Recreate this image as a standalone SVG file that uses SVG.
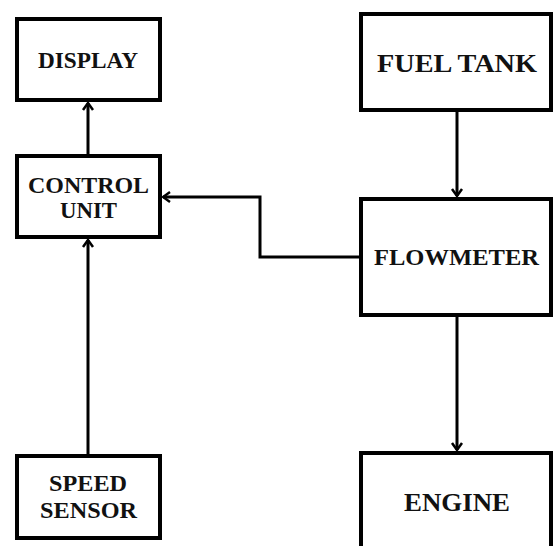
<svg xmlns="http://www.w3.org/2000/svg" width="554" height="546" viewBox="0 0 554 546">
<style>
.box{fill:#fff;stroke:#000;stroke-width:4}
.lbl{font-family:"Liberation Serif","Times New Roman",serif;font-weight:bold;fill:#111;text-anchor:middle}
.con{fill:none;stroke:#000;stroke-width:3}
</style>
<defs>
<marker id="arr" markerUnits="userSpaceOnUse" viewBox="-10 -7 12 14" refX="0" refY="0" markerWidth="12" markerHeight="14" orient="auto">
<path d="M-7,-5 L0,0 L-7,5" fill="none" stroke="#000" stroke-width="2.5"/>
</marker>
</defs>
<rect width="554" height="546" fill="#fff"/>
<g id="connectors">
<path class="con" d="M88,154 V103" marker-end="url(#arr)"/>
<path class="con" d="M359,257 H260 V197 H163" marker-end="url(#arr)"/>
<path class="con" d="M88,454 V240" marker-end="url(#arr)"/>
<path class="con" d="M457,112 V196" marker-end="url(#arr)"/>
<path class="con" d="M457,317 V450" marker-end="url(#arr)"/>
</g>
<g id="display">
<rect class="box" x="17" y="19" width="143" height="81"/>
<text class="lbl" x="88" y="68" font-size="23" textLength="100" lengthAdjust="spacingAndGlyphs">DISPLAY</text>
</g>
<g id="control-unit">
<rect class="box" x="17" y="156" width="143" height="81"/>
<text class="lbl" x="88.5" y="193" font-size="23" textLength="121" lengthAdjust="spacingAndGlyphs">CONTROL</text>
<text class="lbl" x="88.5" y="218" font-size="23" textLength="57" lengthAdjust="spacingAndGlyphs">UNIT</text>
</g>
<g id="speed-sensor">
<rect class="box" x="17" y="456" width="143" height="82"/>
<text class="lbl" x="88" y="491" font-size="23" textLength="78" lengthAdjust="spacingAndGlyphs">SPEED</text>
<text class="lbl" x="88.5" y="518" font-size="23" textLength="97" lengthAdjust="spacingAndGlyphs">SENSOR</text>
</g>
<g id="fuel-tank">
<rect class="box" x="361" y="14" width="190" height="96"/>
<text class="lbl" x="457" y="72" font-size="26" textLength="160" lengthAdjust="spacingAndGlyphs">FUEL TANK</text>
</g>
<g id="flowmeter">
<rect class="box" x="361" y="199" width="190" height="116"/>
<text class="lbl" x="456.5" y="265" font-size="24" textLength="165" lengthAdjust="spacingAndGlyphs">FLOWMETER</text>
</g>
<g id="engine">
<rect class="box" x="361" y="453" width="190" height="110"/>
<text class="lbl" x="457" y="511" font-size="26" textLength="106" lengthAdjust="spacingAndGlyphs">ENGINE</text>
</g>
</svg>
